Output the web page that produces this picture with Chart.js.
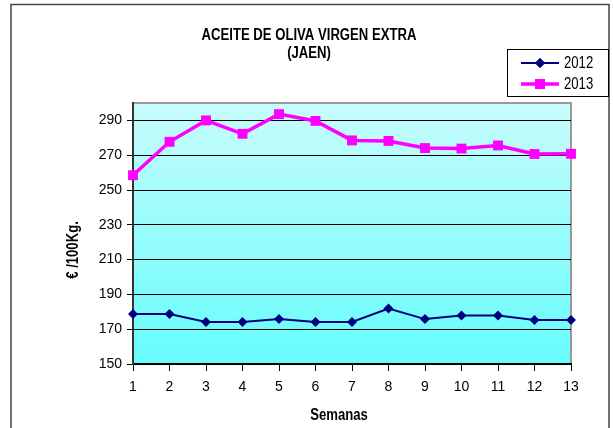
<!DOCTYPE html>
<html>
<head>
<meta charset="utf-8">
<script src="https://cdn.jsdelivr.net/npm/chart.js@4.4.1/dist/chart.umd.min.js"></script>
<style>
  body { margin: 0; background: #fff; }
  #wrap { width: 613px; height: 428px; }
</style>
</head>
<body>
<div id="wrap"><canvas id="oliveChart" width="613" height="428"></canvas></div>
<script>
    // Datos (semanas y precios en euros / 100 kg)
    const weeks = ['1', '2', '3', '4', '5', '6', '7', '8', '9', '10', '11', '12', '13'];
    const prices2012 = [178.7, 178.7, 174.2, 174.2, 175.8, 174.2, 174.2, 181.9, 175.8, 177.9, 177.9, 175.3, 175.3];
    const prices2013 = [258.5, 277.7, 290.0, 282.3, 293.6, 289.7, 278.5, 278.2, 274.1, 273.8, 275.6, 270.7, 270.8];
    const yTicks = [150, 170, 190, 210, 230, 250, 270, 290];

    const FONT = '"Liberation Sans", Arial, sans-serif';
    const NARROW = 0.82; // the original uses a condensed face

    // text squeezed horizontally to look like Arial Narrow
    function narrowText(ctx, text, x, y, font, align, rot) {
        ctx.save();
        ctx.translate(x, y);
        if (rot) ctx.rotate(rot);
        ctx.scale(NARROW, 1);
        ctx.font = font;
        ctx.textAlign = align;
        ctx.textBaseline = 'middle';
        ctx.fillStyle = '#000';
        ctx.fillText(text, 0, 0);
        ctx.restore();
    }

    // Plot background gradient + frame, title, axis titles and legend box
    const decorPlugin = {
        id: 'decor',
        beforeDraw(chart) {
            const { ctx, chartArea: a } = chart;
            ctx.save();
            ctx.fillStyle = '#fff';
            ctx.fillRect(0, 0, chart.width, chart.height);
            const g = ctx.createLinearGradient(0, a.top, 0, a.bottom);
            g.addColorStop(0, '#c8fcfc');
            g.addColorStop(1, '#66fcfc');
            ctx.fillStyle = g;
            ctx.fillRect(a.left, a.top, a.right - a.left, a.bottom - a.top);
            ctx.strokeStyle = '#999';
            ctx.lineWidth = 2;
            ctx.beginPath();
            ctx.moveTo(a.left, a.top);
            ctx.lineTo(a.right, a.top);
            ctx.lineTo(a.right, a.bottom);
            ctx.stroke();
            ctx.restore();
        },
        afterDraw(chart) {
            const { ctx } = chart;
            ctx.save();
            // outer frame
            ctx.strokeStyle = '#444';
            ctx.lineWidth = 1.5;
            ctx.beginPath();
            ctx.moveTo(11, 428);
            ctx.lineTo(11, 4.5);
            ctx.lineTo(609, 4.5);
            ctx.lineTo(609, 428);
            ctx.stroke();

            const bold = 'bold 16px ' + FONT;
            narrowText(ctx, 'ACEITE DE OLIVA VIRGEN EXTRA', 309, 36, bold, 'center');
            narrowText(ctx, '(JAEN)', 309, 54, bold, 'center');
            narrowText(ctx, 'Semanas', 339, 416, bold, 'center');
            narrowText(ctx, '\u20AC /100Kg.', 74, 250, bold, 'center', -Math.PI / 2);

            // legend
            ctx.fillStyle = '#fff';
            ctx.fillRect(507, 49, 101, 47);
            ctx.strokeStyle = '#000';
            ctx.lineWidth = 1;
            ctx.strokeRect(507.5, 49.5, 101, 47);
            const rows = [63, 84];
            chart.data.datasets.forEach((ds, i) => {
                const y = rows[i];
                ctx.strokeStyle = ds.borderColor;
                ctx.lineWidth = ds.borderWidth;
                ctx.beginPath();
                ctx.moveTo(521, y);
                ctx.lineTo(559, y);
                ctx.stroke();
                ctx.fillStyle = ds.backgroundColor;
                Chart.helpers.drawPoint(ctx, {
                    pointStyle: ds.pointStyle,
                    radius: ds.pointRadius,
                    borderWidth: 0,
                    rotation: 0
                }, 540, y);
                ctx.fill();
                narrowText(ctx, ds.label, 564, y + 1, '16px ' + FONT, 'left');
            });
            ctx.restore();
        }
    };

    const ctx = document.getElementById('oliveChart').getContext('2d');
    new Chart(ctx, {
        type: 'line',
        data: {
            labels: weeks,
            datasets: [{
                label: '2012',
                data: prices2012,
                borderColor: '#000080',
                backgroundColor: '#000080',
                borderWidth: 2,
                pointStyle: 'rectRot',
                pointRadius: 5,
                pointBorderWidth: 0,
                tension: 0
            }, {
                label: '2013',
                data: prices2013,
                borderColor: '#ff00ff',
                backgroundColor: '#ff00ff',
                borderWidth: 3.5,
                pointStyle: 'rect',
                pointRadius: 7,
                pointBorderWidth: 0,
                tension: 0
            }]
        },
        options: {
            responsive: false,
            animation: false,
            layout: { padding: { left: 0, right: 42, top: 103, bottom: 0 } },
            plugins: {
                legend: { display: false },
                title: { display: false },
                tooltip: { enabled: false }
            },
            scales: {
                x: {
                    offset: false,
                    grid: { drawOnChartArea: false, drawTicks: true, tickLength: 7, color: '#000', lineWidth: 1 },
                    border: { color: '#000', width: 2 },
                    ticks: { color: '#000', font: { family: FONT, size: 14 }, padding: 8, maxRotation: 0 },
                    afterFit(scale) { scale.height = 64; }
                },
                y: {
                    min: 150,
                    max: 300,
                    afterBuildTicks(scale) {
                        scale.ticks = yTicks.map(v => ({ value: v }));
                    },
                    grid: { color: '#000', lineWidth: 1, drawTicks: true, tickLength: 6 },
                    border: { color: '#333', width: 2 },
                    ticks: { color: '#000', font: { family: FONT, size: 14 }, padding: 5 },
                    afterFit(scale) { scale.width = 133; }
                }
            }
        },
        plugins: [decorPlugin]
    });
</script>
</body>
</html>
